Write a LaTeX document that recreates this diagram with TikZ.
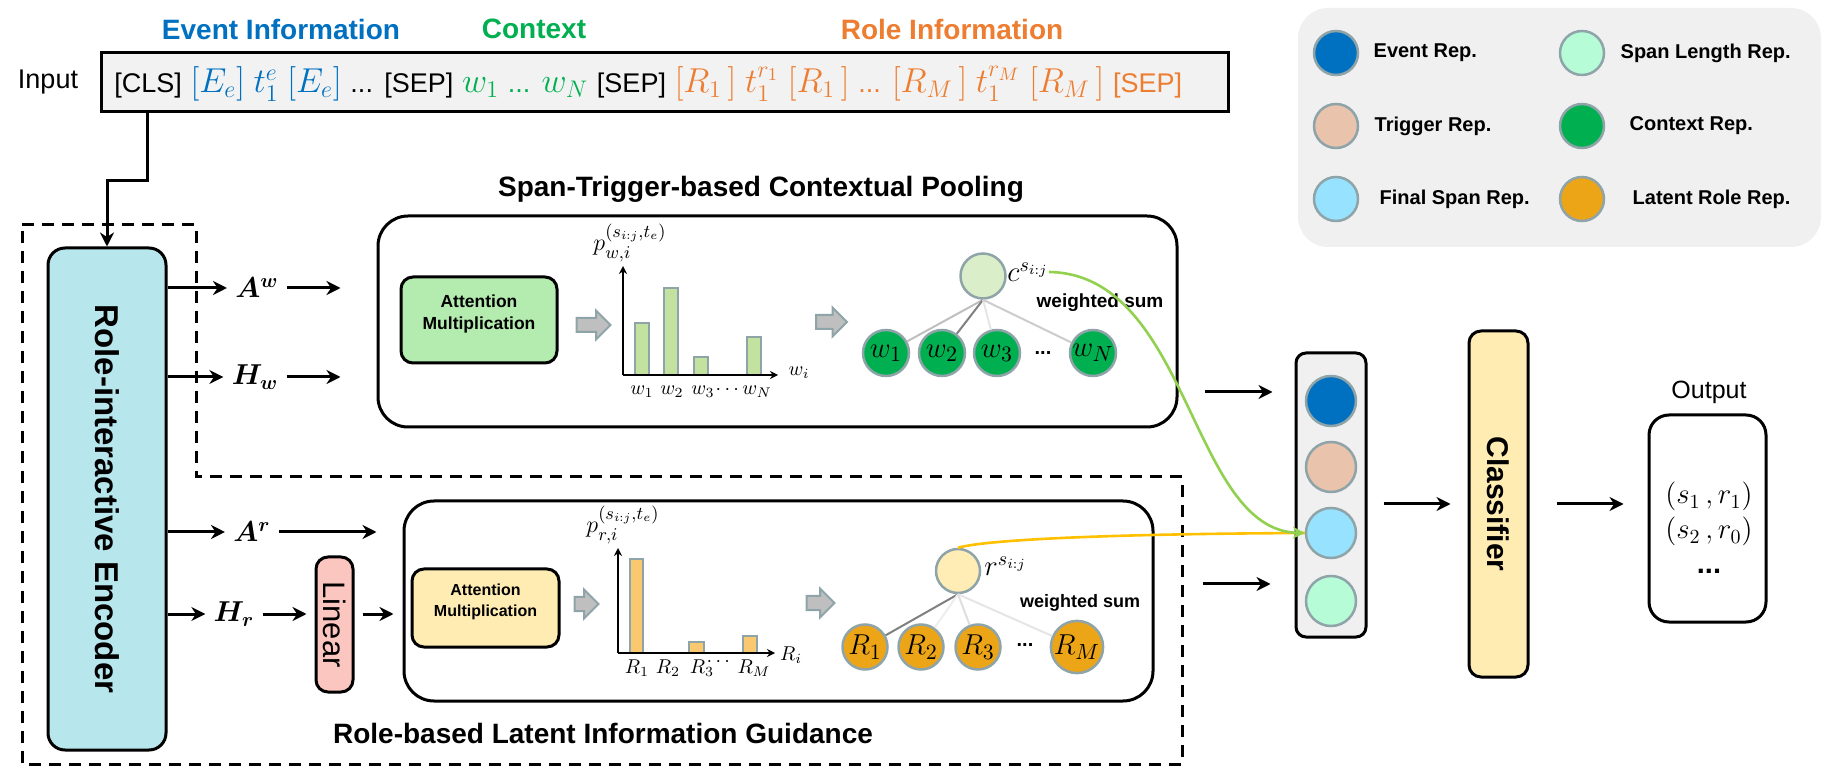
\documentclass[tikz,border=0pt]{standalone}
\usepackage{amsmath}
\usepackage{amssymb}
\usepackage{bm}
\usepackage{fontspec}
\setmainfont{Liberation Sans}
\usetikzlibrary{positioning,fit,arrows.meta,shapes.arrows}

\definecolor{evblue}{HTML}{0070C0}
\definecolor{ctxgreen}{HTML}{00B050}
\definecolor{roleorange}{HTML}{ED7D31}
\definecolor{inbg}{HTML}{F2F2F2}
\definecolor{legbg}{HTML}{F0F0F0}
\definecolor{encfill}{HTML}{B7E7EC}
\definecolor{attgreen}{HTML}{B4ECB0}
\definecolor{attyellow}{HTML}{FFECB3}
\definecolor{bargreen}{HTML}{C4E29F}
\definecolor{barorange}{HTML}{F9C86F}
\definecolor{cfill}{HTML}{DAEEC9}
\definecolor{rfill}{HTML}{FFEDB5}
\definecolor{rolefill}{HTML}{ECA517}
\definecolor{trigfill}{HTML}{E9C3AB}
\definecolor{spanfill}{HTML}{97E3FF}
\definecolor{lenfill}{HTML}{B6FDD7}
\definecolor{linfill}{HTML}{FCC6C0}
\definecolor{greyedge}{HTML}{8EA4A8}
\definecolor{blockgrey}{HTML}{BFBFBF}
\definecolor{curvegreen}{HTML}{92D050}
\definecolor{curveyellow}{HTML}{FFC000}

\newcommand{\spanij}{s_{i:j}}
\newcommand{\inm}[1]{{\fontsize{17.5}{18}\selectfont$#1$}}

\tikzset{
  frame/.style={draw, line width=1.5pt, inner sep=0pt, rounded corners=#1},
  frame/.default=6pt,
  arr/.style={line width=1.5pt, -{Stealth[length=7pt,width=7pt]}},
  axis/.style={line width=1pt, -{Stealth[length=4pt,width=4pt]}},
  dashline/.style={line width=1.5pt, dash pattern=on 6pt off 4pt},
  rep/.style={circle, draw=greyedge, line width=1.25pt, minimum size=#1, inner sep=0pt},
  rep/.default=22pt,
  bar/.style={draw=greyedge, line width=1pt},
  blockarr/.style={single arrow, draw=greyedge, fill=blockgrey, line width=1pt,
    inner sep=3pt, single arrow head extend=3.75pt, minimum height=#1},
  blockarr/.default=16pt,
  mathlab/.style={inner sep=4pt, font=\fontsize{14}{16}\selectfont},
  legtext/.style={inner sep=0pt, font=\bfseries\fontsize{10}{12}\selectfont},
  title/.style={font=\bfseries\fontsize{14}{16}\selectfont},
  wsum/.style={font=\bfseries\fontsize{9.5}{11}\selectfont},
  tick/.style={inner sep=0pt, font=\fontsize{10}{12}\selectfont}
}

\begin{document}
\begin{tikzpicture}[x=0.5pt,y=-0.5pt]
\useasboundingbox (0,0) rectangle (1843,780);

\node[title, text=evblue] (evinfo) at (281,29) {Event Information};
\node[title, text=ctxgreen] (ctxinfo) at (534,29) {Context};
\node[title, text=roleorange] (roleinfo) at (952,29) {Role Information};

\node[font=\fontsize{13.5}{16}\selectfont] (inlab) at (48,82) {Input};
\node[fit={(101,53) (1228,112)}, draw, fill=inbg, line width=1.5pt, inner sep=0pt] (inbox) {};
\node[anchor=west, inner sep=0pt, font=\fontsize{13.5}{16}\selectfont] (intext) at (114,84)
  {\spaceskip=4.4pt\relax [CLS] \textcolor{evblue}{\inm{[E_e]} \inm{t_1^e} \inm{[E_e]}} ... [SEP] \textcolor{ctxgreen}{\inm{w_1} ... \inm{w_N}} [SEP] \textcolor{roleorange}{\inm{[R_1\,]} \inm{t_1^{r_1}} \inm{[R_1\,]} ... \inm{[R_M\,]} \inm{t_1^{r_M}} \inm{[R_M\,]} [SEP]}};

\node[fit={(1298,8) (1821,247)}, fill=legbg, rounded corners=15pt, inner sep=0pt] (legend) {};
\node[rep, fill=evblue] (legev) at (1336,53) {};
\node[legtext, right=7pt of legev] (legevt) {Event Rep.};
\node[rep, fill=trigfill] (legtrig) at (1336,126) {};
\node[legtext, right=7.5pt of legtrig] (legtrigt) {Trigger Rep.};
\node[rep, fill=spanfill] (legfin) at (1336,199) {};
\node[legtext, right=10pt of legfin] (legfint) {Final Span Rep.};
\node[rep, fill=lenfill] (leglen) at (1582,53) {};
\node[legtext, right=7.5pt of leglen] (leglent) {Span Length Rep.};
\node[rep, fill=ctxgreen] (legctx) at (1582,126) {};
\node[legtext, right=12pt of legctx] (legctxt) {Context Rep.};
\node[rep, fill=rolefill] (legrole) at (1582,199) {};
\node[legtext, right=13.5pt of legrole] (legrolet) {Latent Role Rep.};

\draw[dashline] (22,225) -- (196,225) -- (196,477) -- (1182,477) -- (1182,764) -- (22,764) -- cycle;

\node[fit={(48,248) (166,750)}, frame=8.5pt, fill=encfill] (enc) {};
\node[rotate=-90, font=\bfseries\fontsize{16.5}{20}\selectfont] (enclab) at (enc.center) {Role-interactive Encoder};
\draw[arr] ([xshift=24pt]inbox.south west) -- ++(0,67) -| (enc.north);

\node[mathlab] (aw) at (257,288) {$\bm{A}^{\bm{w}}$};
\node[mathlab] (hw) at (255,377) {$\bm{H}_{\bm{w}}$};
\node[mathlab] (ar) at (252,532) {$\bm{A}^{\bm{r}}$};
\node[mathlab] (hr) at (234,614) {$\bm{H}_{\bm{r}}$};
\node[fit={(316,557) (353,692)}, frame=6pt, fill=linfill] (lin) {};
\node[rotate=-90, font=\fontsize{15.5}{18}\selectfont] (linlab) at (lin.center) {Linear};

\node[title] (uptitle) at (761,189) {Span-Trigger-based Contextual Pooling};
\node[fit={(378,216) (1177,427)}, frame=15pt] (upbox) {};
\node[fit={(401,277) (557,363)}, frame=6pt, fill=attgreen, align=center,
  font=\bfseries\fontsize{8.75}{11}\selectfont] (upatt) {Attention\\Multiplication};

\node[title] (lowtitle) at (603,733) {Role-based Latent Information Guidance};
\node[fit={(404,501) (1153,701)}, frame=15pt] (lowbox) {};
\node[fit={(412,569) (559,647)}, frame=6pt, fill=attyellow, align=center,
  font=\bfseries\fontsize{8}{10.5}\selectfont] (lowatt) {Attention\\Multiplication};

\draw[arr] (enc.east |- aw) -- (aw.west);
\draw[arr] (aw.east) -- ([xshift=-18pt]upbox.west |- aw);
\draw[arr] (enc.east |- hw) -- (hw.west);
\draw[arr] (hw.east) -- ([xshift=-18pt]upbox.west |- hw);
\draw[arr] (enc.east |- ar) -- (ar.west);
\draw[arr] (ar.east) -- ([xshift=-13pt]lowbox.west |- ar);
\draw[arr] (enc.east |- hr) -- (hr.west);
\draw[arr, shorten >=4pt] (hr.east) -- (lin.west |- hr);
\draw[arr, shorten <=4pt, shorten >=4.5pt] (lin.east |- hr) -- (lowbox.west |- hr);

\node[blockarr=17pt] (upgo1) at (590,325) {};
\node[blockarr=15.5pt] (upgo2) at (828,322) {};
\node[blockarr=12pt] (lowgo1) at (583,604) {};
\node[blockarr=14pt] (lowgo2) at (817,603) {};

\draw[bar, fill=bargreen] (635,375) rectangle (649,323);
\draw[bar, fill=bargreen] (664,375) rectangle (678,288);
\draw[bar, fill=bargreen] (694,375) rectangle (708,357);
\draw[bar, fill=bargreen] (747,375) rectangle (761,337);
\coordinate (uporig) at (623,375);
\draw[axis] (uporig) -- (623,266);
\draw[axis] (uporig) -- (778,375);
\node[inner sep=0pt, font=\fontsize{12.5}{14}\selectfont] (uppw) at (630,243) {$p_{w,i}^{(\spanij,t_e)}$};
\node[tick] (upwi) at (799,373) {$w_i$};
\node[tick] (upw1) at (642,392) {$w_1$};
\node[tick] (upw2) at (672,392) {$w_2$};
\node[tick] (upw3) at (703,392) {$w_3$};
\node[tick] (updots) at (729,390) {$\cdots$};
\node[tick] (upwn) at (757,392) {$w_N$};

\draw[bar, fill=barorange] (630,653) rectangle (643,559);
\draw[bar, fill=barorange] (689,653) rectangle (704,642);
\draw[bar, fill=barorange] (743,653) rectangle (757,636);
\coordinate (loworig) at (618,653);
\draw[axis] (loworig) -- (618,548);
\draw[axis] (loworig) -- (775,653);
\node[inner sep=0pt, font=\fontsize{12.5}{14}\selectfont] (lowpr) at (623,525) {$p_{r,i}^{(\spanij,t_e)}$};
\node[tick] (lowri) at (791,655) {$R_i$};
\node[tick] (lowr1) at (637,668) {$R_1$};
\node[tick] (lowr2) at (668,668) {$R_2$};
\node[tick] (lowr3) at (702,668) {$R_3$};
\node[tick] (lowdots) at (720,662) {$\cdots$};
\node[tick] (lowrm) at (754,668) {$R_M$};

\node[rep=22.5pt, fill=cfill] (cnode) at (983,276) {};
\node[anchor=west, inner sep=0pt, font=\fontsize{14}{16}\selectfont] (clab) at (1007,272) {$c^{\spanij}$};
\node[wsum] (upsum) at (1100,303) {weighted sum};
\node[rep=23pt, fill=ctxgreen, font=\fontsize{15.5}{17}\selectfont] (w1) at (886,353) {$w_1$};
\node[rep=23pt, fill=ctxgreen, font=\fontsize{15.5}{17}\selectfont] (w2) at (942,353) {$w_2$};
\node[rep=23pt, fill=ctxgreen, font=\fontsize{15.5}{17}\selectfont] (w3) at (997,353) {$w_3$};
\node[font=\bfseries\fontsize{10}{12}\selectfont] (wdots) at (1043,353) {...};
\node[rep=23pt, fill=ctxgreen, font=\fontsize{15.5}{17}\selectfont] (wn) at (1093,353) {$w_N$};
\draw[line width=1pt, black!25] (cnode.south) -- (w1);
\draw[line width=1pt, black!50] (cnode.south) -- (w2);
\draw[line width=1pt, black!10] (cnode.south) -- (w3);
\draw[line width=1pt, black!20] (cnode.south) -- (wn);

\node[rep=22pt, fill=rfill] (rnode) at (958,571) {};
\node[anchor=west, inner sep=0pt, font=\fontsize{14}{16}\selectfont] (rlab) at (984,566) {$r^{\spanij}$};
\node[wsum, font=\bfseries\fontsize{9}{11}\selectfont] (lowsum) at (1080,603) {weighted sum};
\node[rep=22.5pt, fill=rolefill, font=\fontsize{15}{17}\selectfont] (r1) at (865,647) {$R_1$};
\node[rep=22.5pt, fill=rolefill, font=\fontsize{15}{17}\selectfont] (r2) at (921,647) {$R_2$};
\node[rep=22.5pt, fill=rolefill, font=\fontsize{15}{17}\selectfont] (r3) at (978,647) {$R_3$};
\node[font=\bfseries\fontsize{10}{12}\selectfont] (rdots) at (1025,645) {...};
\node[rep=22.5pt, fill=rolefill, font=\fontsize{15}{17}\selectfont] (rm) at (1077,647) {$R_M$};
\draw[line width=1pt, black!50] (rnode.south) -- (r1);
\draw[line width=1pt, black!7] (rnode.south) -- (r2);
\draw[line width=1pt, black!13] (rnode.south) -- (r3);
\draw[line width=1pt, black!10] (rnode.south) -- (rm);

\node[fit={(1296,353) (1366,637)}, frame=5pt, fill=legbg] (stack) {};
\node[rep=25pt, fill=evblue] (sev) at (1331,401) {};
\node[rep=25pt, fill=trigfill] (strig) at (1331,467) {};
\node[rep=25pt, fill=spanfill] (sfin) at (1331,533) {};
\node[rep=25pt, fill=lenfill] (slen) at (1331,601) {};

\node[fit={(1469,331) (1528,677)}, frame=6pt, fill=attyellow] (cls) {};
\node[rotate=-90, font=\bfseries\fontsize{15}{18}\selectfont] (clslab) at (cls.center) {Classifier};
\node[fit={(1649,415) (1766,622)}, frame=10pt] (outbox) {};
\node[font=\fontsize{12.5}{15}\selectfont] (outlab) at (1709,392) {Output};
\node[align=center, font=\fontsize{14.5}{17.5}\selectfont] (outtext) at (1709,528)
  {$(s_1\,,r_1)$\\$(s_2\,,r_0)$\\\textbf{...}};

\coordinate (upout) at (1205,392);
\coordinate (lowout) at (1203,584);
\draw[arr, shorten >=11pt] (upout) -- (stack.west |- upout);
\draw[arr, shorten >=12pt] (lowout) -- (stack.west |- lowout);
\draw[arr, shorten <=8pt, shorten >=8.5pt] (stack.east |- cls) -- (cls.west);
\draw[arr, shorten <=13.5pt, shorten >=12pt] (cls.east) -- (cls.east -| outbox.west);

\draw[curveyellow, line width=1.3pt] (rnode.north) .. controls (985,540) and (1100,534) .. (sfin.west);
\draw[curvegreen, line width=1.3pt, -{Stealth[length=6pt,width=6pt]}] (clab.east) .. controls (1190,274) and (1190,530) .. (sfin.west);
\end{tikzpicture}
\end{document}
